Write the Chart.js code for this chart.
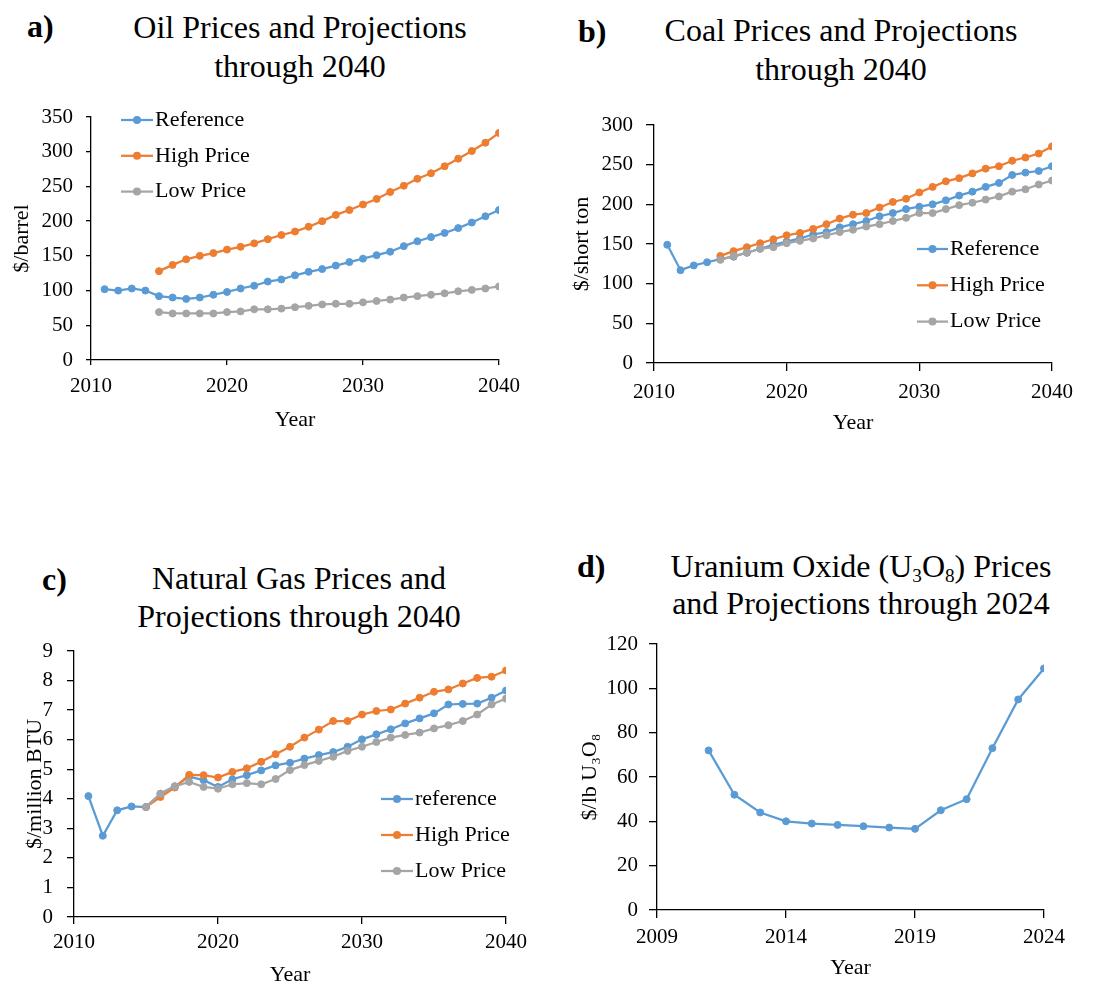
<!DOCTYPE html>
<html>
<head>
<meta charset="utf-8">
<title>Energy price projections</title>
<script src="https://cdn.jsdelivr.net/npm/chart.js@4.4.1/dist/chart.umd.min.js"></script>
<style>
    html, body {
        margin: 0;
        padding: 0;
        background: #fff;
        overflow: hidden;
        width: 1104px;
        height: 982px;
        font-family: 'Liberation Serif', 'Times New Roman', serif;
        color: #000;
    }
    canvas {
        position: absolute;
    }
    .panel-title {
        position: absolute;
        font-size: 32px;
        text-align: center;
        white-space: nowrap;
    }
    .panel-title sub {
        font-size: 60%;
        vertical-align: -0.25em;
        line-height: 0;
    }
    .panel-tag {
        position: absolute;
        font-size: 32px;
        font-weight: bold;
        line-height: 32px;
    }
</style>
</head>
<body>

<div class="panel-tag" style="left:27px; top:10px;">a)</div>
<div class="panel-title" style="left:100px; width:400px; top:8px; line-height:39px;">Oil Prices and Projections<br>through 2040</div>
<canvas id="chart-oil" width="550" height="350" style="left:0; top:90px;"></canvas>

<div class="panel-tag" style="left:578px; top:15px;">b)</div>
<div class="panel-title" style="left:641px; width:400px; top:11px; line-height:39px;">Coal Prices and Projections<br>through 2040</div>
<canvas id="chart-coal" width="552" height="350" style="left:552px; top:90px;"></canvas>

<div class="panel-tag" style="left:42px; top:563px;">c)</div>
<div class="panel-title" style="left:99px; width:400px; top:559px; line-height:38px;">Natural Gas Prices and<br>Projections through 2040</div>
<canvas id="chart-gas" width="550" height="460" style="left:0; top:540px;"></canvas>

<div class="panel-tag" style="left:577px; top:550px;">d)</div>
<div class="panel-title" style="left:641px; width:440px; top:548px; line-height:37px;">Uranium Oxide (U<sub>3</sub>O<sub>8</sub>) Prices<br>and Projections through 2024</div>
<canvas id="chart-uranium" width="552" height="460" style="left:552px; top:540px;"></canvas>

<script>
// years 2011 - 2040; projections start in 2015
const years = [2011, 2012, 2013, 2014, 2015, 2016, 2017, 2018, 2019, 2020,
               2021, 2022, 2023, 2024, 2025, 2026, 2027, 2028, 2029, 2030,
               2031, 2032, 2033, 2034, 2035, 2036, 2037, 2038, 2039, 2040];

// oil, $/barrel
const oilReference = [102, 100, 103, 100, 92, 90, 88, 90, 94, 98,
                      103, 107, 113, 116, 122, 127, 131, 136, 141, 146,
                      151, 156, 164, 171, 177, 183, 190, 198, 207, 216];
const oilHigh = [null, null, null, null, 128, 137, 145, 150, 154, 159,
                 163, 168, 174, 180, 185, 192, 200, 209, 216, 224,
                 232, 242, 251, 261, 269, 279, 290, 301, 313, 327];
const oilLow = [null, null, null, null, 69, 67, 67, 67, 67, 69,
                70, 73, 73, 74, 76, 78, 80, 81, 81, 83,
                85, 87, 90, 92, 94, 96, 99, 101, 103, 106];

// coal, $/short ton
const coalReference = [149, 117, 123, 127, 131, 134, 139, 144, 149, 153,
                       157, 162, 165, 171, 175, 179, 185, 189, 194, 197,
                       200, 205, 211, 216, 222, 227, 237, 240, 242, 248];
const coalHigh = [null, null, null, null, 135, 141, 146, 151, 156, 161,
                  164, 169, 175, 182, 187, 189, 196, 203, 207, 215,
                  222, 229, 233, 239, 245, 248, 255, 259, 264, 273];
const coalLow = [null, null, null, null, 130, 135, 139, 144, 146, 151,
                 154, 157, 161, 165, 168, 172, 175, 179, 183, 189,
                 189, 194, 199, 202, 206, 210, 216, 219, 225, 230];

// natural gas, $/million BTU
const gasReference = [4.09, 2.75, 3.61, 3.74, 3.72, 4.17, 4.42, 4.75, 4.63, 4.40,
                      4.66, 4.80, 4.96, 5.13, 5.22, 5.36, 5.48, 5.58, 5.76, 6.01,
                      6.18, 6.35, 6.55, 6.72, 6.89, 7.19, 7.21, 7.22, 7.42, 7.66];
const gasHigh = [null, null, null, null, 3.72, 4.06, 4.38, 4.81, 4.80, 4.72,
                 4.91, 5.03, 5.25, 5.51, 5.76, 6.07, 6.34, 6.63, 6.63, 6.85,
                 6.97, 7.02, 7.22, 7.42, 7.62, 7.70, 7.90, 8.09, 8.13, 8.34];
const gasLow = [null, null, null, null, 3.72, 4.17, 4.42, 4.57, 4.40, 4.34,
                4.49, 4.53, 4.49, 4.67, 4.97, 5.14, 5.28, 5.42, 5.62, 5.76,
                5.92, 6.07, 6.16, 6.24, 6.38, 6.49, 6.63, 6.85, 7.19, 7.39];

// uranium oxide, $/lb U3O8
const uraniumYears = [2011, 2012, 2013, 2014, 2015, 2016, 2017,
                      2018, 2019, 2020, 2021, 2022, 2023, 2024];
const uraniumPrice = [72, 52, 44, 40, 39, 38.4, 37.8,
                      37.2, 36.6, 45, 50, 73, 95, 109];

const BLUE = '#5b9bd5';
const ORANGE = '#ed7d31';
const GREY = '#a5a5a5';
const SERIF = "'Liberation Serif', 'Times New Roman', serif";

Chart.defaults.font.family = SERIF;
Chart.defaults.color = '#000';

// legend drawn inside the plot, Excel style: short line with a marker
const insideLegend = {
    id: 'insideLegend',
    afterDraw(chart, args, opts) {
        if (!opts || opts.x == null) return;
        const ctx = chart.ctx;
        ctx.save();
        ctx.font = opts.fontSpec;
        ctx.textBaseline = 'middle';
        ctx.textAlign = 'left';
        chart.data.datasets.forEach((ds, i) => {
            const y = opts.y + i * opts.gap;
            ctx.strokeStyle = ds.borderColor;
            ctx.lineWidth = ds.borderWidth;
            ctx.beginPath();
            ctx.moveTo(opts.x, y);
            ctx.lineTo(opts.x + opts.swatch, y);
            ctx.stroke();
            ctx.fillStyle = ds.borderColor;
            ctx.beginPath();
            ctx.arc(opts.x + opts.swatch / 2, y, 4, 0, Math.PI * 2);
            ctx.fill();
            ctx.fillStyle = '#000';
            ctx.fillText(ds.label, opts.x + opts.swatch + 2, y);
        });
        ctx.restore();
    }
};
Chart.register(insideLegend);

function series(label, data, color, order) {
    return {
        label,
        data,
        order,
        borderColor: color,
        backgroundColor: color,
        borderWidth: 2.25,
        pointRadius: 3.5,
        pointBorderWidth: 1,
        pointBackgroundColor: color,
        pointBorderColor: color,
        tension: 0,
        spanGaps: false,
    };
}

function axisStyle(tickLength) {
    return {
        grid: {
            display: true,
            drawOnChartArea: false,
            drawTicks: true,
            tickLength,
            color: '#000',
            lineWidth: 1.3,
        },
        border: { color: '#000', width: 1.3 },
    };
}

function createPanel(canvasId, cfg) {
    const canvas = document.getElementById(canvasId);
    const a = cfg.area;
    return new Chart(canvas.getContext('2d'), {
        type: 'line',
        data: {
            labels: cfg.labels,
            datasets: cfg.datasets,
        },
        options: {
            responsive: false,
            animation: false,
            layout: {
                padding: { left: 0, top: a.top, right: canvas.width - a.right, bottom: 0 },
            },
            scales: {
                x: {
                    type: 'linear',
                    min: cfg.xMin,
                    max: cfg.xMax,
                    ...axisStyle(cfg.tickLength),
                    ticks: {
                        stepSize: cfg.xStep,
                        font: { family: SERIF, size: 21 },
                        color: '#000',
                        padding: cfg.xTickPad,
                        maxRotation: 0,
                        callback: (value) => String(value),
                    },
                    title: {
                        display: true,
                        text: 'Year',
                        font: { family: SERIF, size: 22 },
                        color: '#000',
                        padding: { top: 0, bottom: cfg.xTitlePad },
                    },
                    afterFit: (scale) => { scale.height = canvas.height - a.bottom; },
                },
                y: {
                    type: 'linear',
                    min: cfg.yMin,
                    max: cfg.yMax,
                    ...axisStyle(cfg.tickLength),
                    ticks: {
                        stepSize: cfg.yStep,
                        font: { family: SERIF, size: 21 },
                        color: '#000',
                        padding: cfg.yTickPad,
                    },
                    title: {
                        display: true,
                        text: cfg.yTitle,
                        font: { family: SERIF, size: 22 },
                        color: '#000',
                        padding: { top: cfg.yTitlePad, bottom: 0 },
                    },
                    afterFit: (scale) => { scale.width = a.left; },
                },
            },
            plugins: {
                legend: { display: false },
                tooltip: { enabled: false },
                insideLegend: cfg.legend || false,
            },
        },
    });
}

const legendFont = "22px " + SERIF;

createPanel('chart-oil', {
    labels: years,
    datasets: [
        series('Reference', oilReference, BLUE, 2),
        series('High Price', oilHigh, ORANGE, 1),
        series('Low Price', oilLow, GREY, 0),
    ],
    area: { left: 91, top: 27, right: 499, bottom: 270 },
    xMin: 2010, xMax: 2040, xStep: 10,
    yMin: 0, yMax: 350, yStep: 50,
    yTitle: '$/barrel',
    tickLength: 5, yTickPad: 13, xTickPad: 9, xTitlePad: 7, yTitlePad: 9,
    legend: { x: 121, y: 30, gap: 35.8, swatch: 32, fontSpec: legendFont },
});

createPanel('chart-coal', {
    labels: years,
    datasets: [
        series('Reference', coalReference, BLUE, 2),
        series('High Price', coalHigh, ORANGE, 1),
        series('Low Price', coalLow, GREY, 0),
    ],
    area: { left: 102, top: 35, right: 500, bottom: 273 },
    xMin: 2010, xMax: 2040, xStep: 10,
    yMin: 0, yMax: 300, yStep: 50,
    yTitle: '$/short ton',
    tickLength: 8, yTickPad: 13, xTickPad: 9, xTitlePad: 4, yTitlePad: 17,
    legend: { x: 365, y: 159, gap: 36.3, swatch: 31, fontSpec: legendFont },
});

createPanel('chart-gas', {
    labels: years,
    datasets: [
        series('reference', gasReference, BLUE, 2),
        series('High Price', gasHigh, ORANGE, 1),
        series('Low Price', gasLow, GREY, 0),
    ],
    area: { left: 74, top: 111, right: 506, bottom: 377 },
    xMin: 2010, xMax: 2040, xStep: 10,
    yMin: 0, yMax: 9, yStep: 1,
    yTitle: '$/million BTU',
    tickLength: 7, yTickPad: 14, xTickPad: 6, xTitlePad: 12, yTitlePad: 22,
    legend: { x: 381, y: 259, gap: 36, swatch: 32, fontSpec: legendFont },
});

createPanel('chart-uranium', {
    labels: uraniumYears,
    datasets: [
        series('Price', uraniumPrice, BLUE, 0),
    ],
    area: { left: 105, top: 104, right: 492, bottom: 370 },
    xMin: 2009, xMax: 2024, xStep: 5,
    yMin: 0, yMax: 120, yStep: 20,
    yTitle: '$/lb U₃O₈',
    tickLength: 8, yTickPad: 11, xTickPad: 7, xTitlePad: 19, yTitlePad: 25,
    legend: null,
});
</script>
</body>
</html>
